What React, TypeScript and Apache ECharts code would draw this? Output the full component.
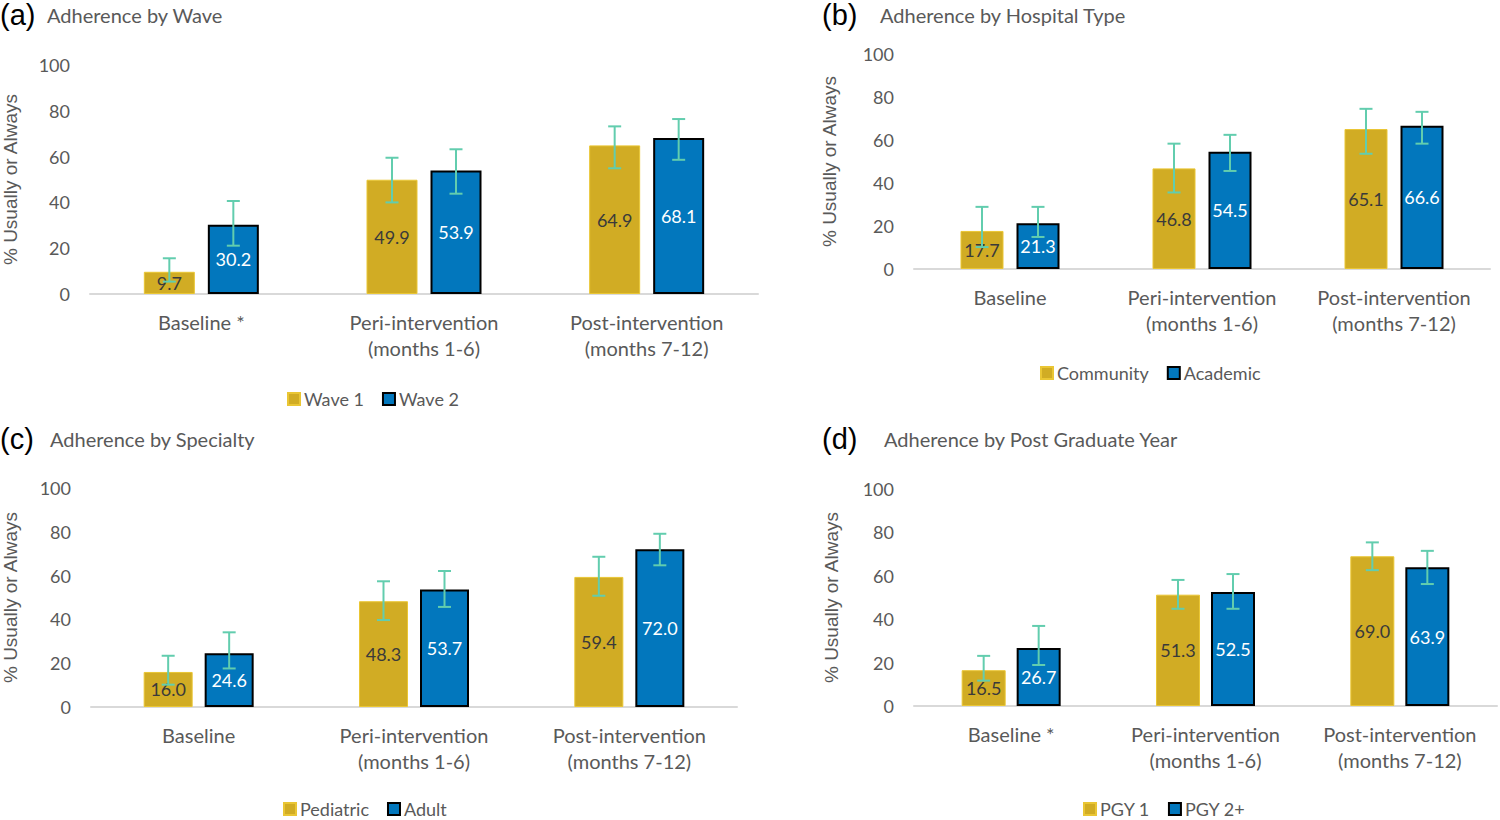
import React, { useEffect, useRef } from "react";
import * as echarts from "echarts";

const categoriesA = ["Baseline *", "Peri-intervention\n(months 1-6)", "Post-intervention\n(months 7-12)"];
const categoriesB = ["Baseline", "Peri-intervention\n(months 1-6)", "Post-intervention\n(months 7-12)"];
const categoriesC = ["Baseline", "Peri-intervention\n(months 1-6)", "Post-intervention\n(months 7-12)"];
const categoriesD = ["Baseline *", "Peri-intervention\n(months 1-6)", "Post-intervention\n(months 7-12)"];

const yTicks = [0, 20, 40, 60, 80, 100];

// (a) Wave
const wave1 = [9.7, 49.9, 64.9];
const wave1Low = [5.4, 40.0, 54.9];
const wave1High = [15.6, 59.5, 73.2];
const wave2 = [30.2, 53.9, 68.1];
const wave2Low = [21.1, 43.8, 58.6];
const wave2High = [40.6, 63.2, 76.4];

// (b) Hospital type
const community = [17.7, 46.8, 65.1];
const communityLow = [10.2, 35.6, 53.6];
const communityHigh = [28.9, 58.3, 74.5];
const academic = [21.3, 54.5, 66.6];
const academicLow = [14.9, 45.6, 58.3];
const academicHigh = [28.9, 62.4, 73.1];

// (c) Specialty
const pediatric = [16.0, 48.3, 59.4];
const pediatricLow = [10.2, 39.7, 50.8];
const pediatricHigh = [23.4, 57.4, 68.6];
const adult = [24.6, 53.7, 72.0];
const adultLow = [17.6, 45.7, 64.7];
const adultHigh = [34.1, 62.1, 79.1];

// (d) Post graduate year
const pgy1 = [16.5, 51.3, 69.0];
const pgy1Low = [11.7, 44.8, 62.6];
const pgy1High = [23.1, 58.1, 75.4];
const pgy2 = [26.7, 52.5, 63.9];
const pgy2Low = [18.9, 44.8, 56.2];
const pgy2High = [36.9, 60.8, 71.5];

const panels = [
  {
    letter: "(a)", title: "Adherence by Wave", cats: categoriesA,
    names: ["Wave 1", "Wave 2"], vals: [wave1, wave2], lows: [wave1Low, wave2Low], highs: [wave1High, wave2High],
    grid: { left: 83, right: 742, top: 65, bottom: 526 }, barWidth: 51, gap: 13, nameGap: 70,
    letterPos: [0, 17], titlePos: [47, 17], legend: { left: 287, top: 390 },
  },
  {
    letter: "(b)", title: "Adherence by Hospital Type", cats: categoriesB,
    names: ["Community", "Academic"], vals: [community, academic], lows: [communityLow, academicLow], highs: [communityHigh, academicHigh],
    grid: { left: 914, right: 10, top: 54, bottom: 551 }, barWidth: 43, gap: 13, nameGap: 75,
    letterPos: [822, 17], titlePos: [880, 17], legend: { left: 1040, top: 364 },
  },
  {
    letter: "(c)", title: "Adherence by Specialty", cats: categoriesC,
    names: ["Pediatric", "Adult"], vals: [pediatric, adult], lows: [pediatricLow, adultLow], highs: [pediatricHigh, adultHigh],
    grid: { left: 84, right: 763, top: 488, bottom: 113 }, barWidth: 49, gap: 12, nameGap: 71,
    letterPos: [0, 441], titlePos: [50, 441], legend: { left: 283, top: 800 },
  },
  {
    letter: "(d)", title: "Adherence by Post Graduate Year", cats: categoriesD,
    names: ["PGY 1", "PGY 2+"], vals: [pgy1, pgy2], lows: [pgy1Low, pgy2Low], highs: [pgy1High, pgy2High],
    grid: { left: 914, right: 3, top: 489, bottom: 114 }, barWidth: 44, gap: 11, nameGap: 73,
    letterPos: [822, 441], titlePos: [884, 441], legend: { left: 1083, top: 800 },
  },
];

const GOLD = "#D1AC24";
const GOLD_BORDER = "#EAC634";
const BLUE = "#0277BD";
const ERR = "#62CDAE";
const TXT = "#595959";
const FONT = "Lato, 'Open Sans', sans-serif";

export default function App() {
  const ref = useRef<HTMLDivElement>(null);
  useEffect(() => {
    if (!ref.current) return;
    const chart = echarts.init(ref.current, null, { renderer: "svg" });
    const grids: any[] = [];
    const xAxes: any[] = [];
    const yAxes: any[] = [];
    const series: any[] = [];
    const legends: any[] = [];
    const graphics: any[] = [];

    panels.forEach((p, pi) => {
      grids.push({ ...p.grid, containLabel: false });
      xAxes.push({
        type: "category", gridIndex: pi, data: p.cats,
        axisLine: { lineStyle: { color: "#D9D9D9", width: 2 } },
        axisTick: { show: false },
        axisLabel: { color: TXT, fontSize: 20, fontFamily: FONT, lineHeight: 26, margin: 15, interval: 0 },
      });
      yAxes.push({
        type: "value", gridIndex: pi, min: yTicks[0], max: yTicks[yTicks.length - 1], interval: yTicks[1] - yTicks[0],
        axisLine: { show: false }, axisTick: { show: false }, splitLine: { show: false },
        axisLabel: { color: TXT, fontSize: 18, fontFamily: FONT, margin: 20 },
        name: "% Usually or Always", nameLocation: "middle", nameGap: p.nameGap,
        nameTextStyle: { color: TXT, fontSize: 19, fontFamily: "'Liberation Sans', Arial, sans-serif" },
      });
      const barGap = (p.gap / p.barWidth) * 100 + "%";
      p.names.forEach((n, si) => {
        const isGold = si === 0;
        series.push({
          type: "bar", name: n, xAxisIndex: pi, yAxisIndex: pi, data: p.vals[si],
          barWidth: p.barWidth, barGap,
          itemStyle: {
            color: isGold ? GOLD : BLUE,
            borderColor: isGold ? GOLD_BORDER : "#000000",
            borderWidth: isGold ? 1 : 2,
          },
          label: {
            show: true, position: "inside", formatter: (d: any) => Number(d.value).toFixed(1),
            color: isGold ? "#3A3A3A" : "#FFFFFF", fontSize: 18, fontFamily: FONT,
          },
        });
      });
      p.names.forEach((n, si) => {
        const offset = (si === 0 ? -1 : 1) * (p.barWidth + p.gap) / 2;
        const errData = p.lows[si].map((lo, i) => [i, lo, p.highs[si][i]]);
        series.push({
          type: "custom", name: n + " error", xAxisIndex: pi, yAxisIndex: pi, data: errData, z: 10,
          silent: true,
          renderItem: (params: any, api: any) => {
            const x = api.coord([api.value(0), 0])[0] + offset;
            const yLo = api.coord([api.value(0), api.value(1)])[1];
            const yHi = api.coord([api.value(0), api.value(2)])[1];
            const half = 6.5;
            const style = { stroke: ERR, lineWidth: 2 };
            return {
              type: "group",
              children: [
                { type: "line", shape: { x1: x, y1: yLo, x2: x, y2: yHi }, style },
                { type: "line", shape: { x1: x - half, y1: yLo, x2: x + half, y2: yLo }, style },
                { type: "line", shape: { x1: x - half, y1: yHi, x2: x + half, y2: yHi }, style },
              ],
            };
          },
        });
      });
      legends.push({
        data: p.names, left: p.legend.left, top: p.legend.top, orient: "horizontal",
        itemWidth: 12, itemHeight: 12, itemGap: 18, icon: "rect", padding: 0,
        textStyle: { color: TXT, fontSize: 18, lineHeight: 18, fontFamily: FONT, padding: [0, 0, 0, -1] },
      });
      graphics.push({
        type: "text", left: p.letterPos[0], top: p.letterPos[1] - 17,
        style: { text: p.letter, fill: "#000000", fontSize: 29, fontFamily: "'Liberation Sans', Arial, sans-serif" },
      });
      graphics.push({
        type: "text", left: p.titlePos[0], top: p.titlePos[1] - 12,
        style: { text: p.title, fill: TXT, fontSize: 20, fontFamily: FONT },
      });
    });

    chart.setOption({
      animation: false,
      backgroundColor: "#FFFFFF",
      grid: grids,
      xAxis: xAxes,
      yAxis: yAxes,
      legend: legends,
      series,
      graphic: graphics,
    });
    return () => chart.dispose();
  }, []);
  return (
    <div
      ref={ref}
      style={{ position: "fixed", left: 0, top: 0, width: 1500, height: 820, background: "#fff" }}
    />
  );
}
